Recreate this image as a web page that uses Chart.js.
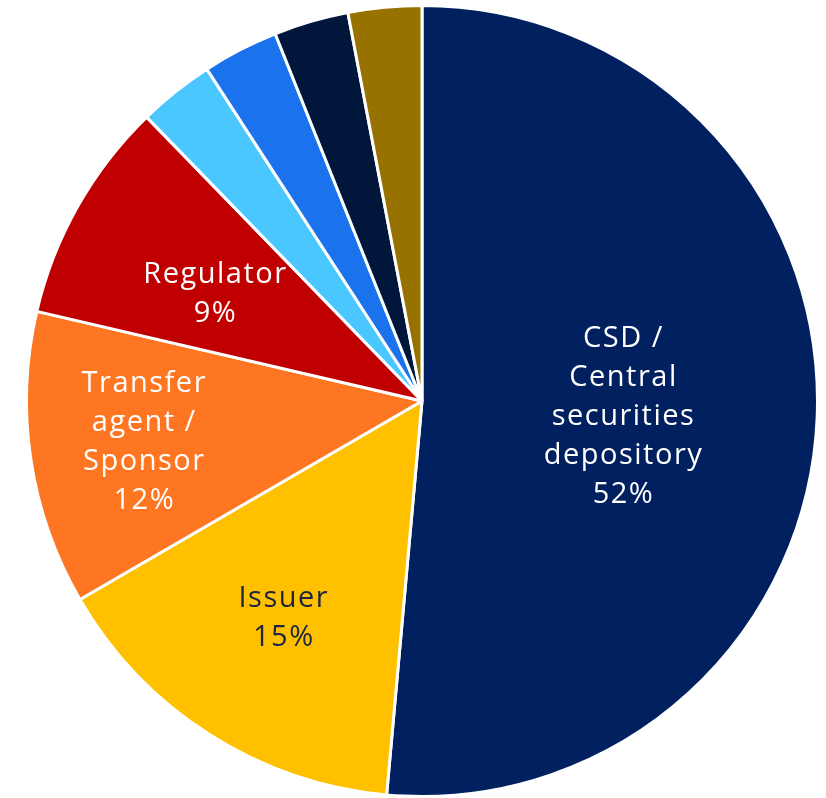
<!DOCTYPE html>
<html>
<head>
<meta charset="utf-8">
<script src="https://cdn.jsdelivr.net/npm/chart.js@4"></script>
<style>
  html, body { margin: 0; padding: 0; background: #fff; }
  #wrap { width: 826px; height: 798px; }
</style>
</head>
<body>
<div id="wrap"><canvas id="chart"></canvas></div>
<script>
const CATEGORIES = ['CSD / Central securities depository', 'Issuer', 'Transfer agent / Sponsor', 'Regulator', 'Other 1', 'Other 2', 'Other 3', 'Other 4'];
const SHARES = [51.4, 15.2, 12.0, 9.1, 3.1, 3.1, 3.05, 3.0];
const LABEL_LINES = [
  ['CSD /', 'Central', 'securities', 'depository', '52%'],
  ['Issuer', '15%'],
  ['Transfer', 'agent /', 'Sponsor', '12%'],
  ['Regulator', '9%'],
  [], [], [], []
];
const COLORS = ['#002060', '#FFC000', '#FE7621', '#C00000', '#4BC7FF', '#1A72EC', '#00163B', '#987200'];
const TEXT_COLORS = ['#fff', '#1c2640', '#fff', '#fff'];
// how far out along the slice each label sits (fraction of radius) and a small vertical nudge
const LABEL_RADIUS = [0.51, 0.65, 0.71, 0.6];
const LABEL_NUDGE_Y = [7, 0, 0, 10];

const sliceLabels = {
  id: 'sliceLabels',
  afterDatasetsDraw(chart) {
    const ctx = chart.ctx;
    const arcs = chart.getDatasetMeta(0).data;
    ctx.save();
    ctx.font = '400 29px "Open Sans", sans-serif';
    ctx.letterSpacing = '1.5px';
    ctx.textAlign = 'center';
    ctx.textBaseline = 'middle';
    arcs.forEach((arc, i) => {
      const lines = LABEL_LINES[i];
      if (!lines || !lines.length) return;
      const p = arc.getProps(['x', 'y', 'startAngle', 'endAngle', 'outerRadius'], true);
      const mid = (p.startAngle + p.endAngle) / 2;
      const r = p.outerRadius * LABEL_RADIUS[i];
      const cx = p.x + Math.cos(mid) * r;
      const cy = p.y + Math.sin(mid) * r + LABEL_NUDGE_Y[i];
      const lh = 39;
      ctx.fillStyle = TEXT_COLORS[i];
      lines.forEach((t, k) => {
        ctx.fillText(t, cx, cy + (k - (lines.length - 1) / 2) * lh);
      });
    });
    ctx.restore();
  }
};

new Chart(document.getElementById('chart'), {
  type: 'pie',
  data: {
    labels: CATEGORIES,
    datasets: [{
      data: SHARES,
      backgroundColor: COLORS,
      borderColor: '#fff',
      borderWidth: 3
    }]
  },
  options: {
    responsive: true,
    maintainAspectRatio: false,
    animation: false,
    layout: { padding: { left: 18, top: 4, right: 0, bottom: 0 } },
    plugins: {
      legend: { display: false },
      tooltip: { enabled: false }
    }
  },
  plugins: [sliceLabels]
});
</script>
</body>
</html>
